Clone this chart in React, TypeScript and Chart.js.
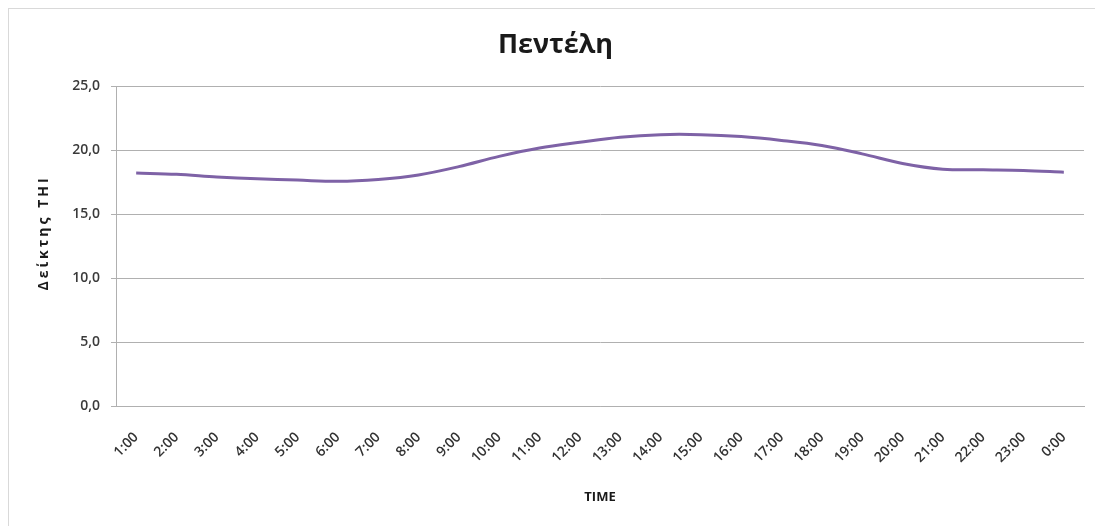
import React, { useEffect, useRef } from "react";
import { Chart, registerables } from "chart.js";

Chart.register(...registerables);

const hours: string[] = [
  "1:00", "2:00", "3:00", "4:00", "5:00", "6:00", "7:00", "8:00",
  "9:00", "10:00", "11:00", "12:00", "13:00", "14:00", "15:00", "16:00",
  "17:00", "18:00", "19:00", "20:00", "21:00", "22:00", "23:00", "0:00",
];

const thiValues: number[] = [
  18.2, 18.1, 17.9, 17.75, 17.65, 17.55, 17.7, 18.05,
  18.7, 19.5, 20.15, 20.6, 21.0, 21.2, 21.2, 21.05,
  20.75, 20.35, 19.7, 18.95, 18.5, 18.45, 18.4, 18.27,
];

const chartTitle = "Πεντέλη";
const yAxisTitle = "Δείκτης THI";
const xAxisTitle = "TIME";

const FONT = "'Open Sans', 'DejaVu Sans', sans-serif";
const GRID = "#b0b0b0";

// Vertical axis title, drawn with letter spacing to the left of the plot
const yTitlePlugin = {
  id: "yTitle",
  afterDraw(chart: any) {
    const { ctx, chartArea } = chart;
    ctx.save();
    ctx.font = `bold 14px ${FONT}`;
    ctx.fillStyle = "#1a1a1a";
    ctx.textAlign = "center";
    ctx.textBaseline = "middle";
    (ctx as any).letterSpacing = "3px";
    ctx.translate(35, (chartArea.top + chartArea.bottom) / 2 - 13);
    ctx.rotate(-Math.PI / 2);
    ctx.fillText(yAxisTitle, 0, 0);
    ctx.restore();
    (ctx as any).letterSpacing = "0px";
  },
};

export default function App() {
  const canvasRef = useRef<HTMLCanvasElement | null>(null);

  useEffect(() => {
    if (!canvasRef.current) return;
    const chart = new Chart(canvasRef.current, {
      type: "line",
      data: {
        labels: hours,
        datasets: [
          {
            label: chartTitle,
            data: thiValues,
            borderColor: "#7e62a6",
            borderWidth: 3,
            pointRadius: 0,
            tension: 0.35,
            fill: false,
          },
        ],
      },
      plugins: [yTitlePlugin],
      options: {
        responsive: false,
        animation: false,
        layout: { padding: { left: 18, right: 18, top: 0, bottom: 0 } },
        plugins: {
          legend: { display: false },
          tooltip: { enabled: false },
          title: {
            display: true,
            text: chartTitle,
            color: "#1a1a1a",
            font: { family: FONT, size: 27, weight: "bold" },
            padding: { top: 20, bottom: 24.6 },
          },
        },
        scales: {
          x: {
            offset: true,
            grid: { display: false, drawTicks: false },
            border: { display: true, color: GRID, width: 1 },
            ticks: {
              autoSkip: false,
              maxRotation: 45,
              minRotation: 45,
              padding: 23,
              color: "#333333",
              font: { family: FONT, size: 14, weight: 600 },
            },
            title: {
              display: true,
              text: xAxisTitle,
              color: "#1a1a1a",
              font: { family: FONT, size: 13, weight: "bold" },
              padding: { top: 0, bottom: 21 },
            },
            afterFit: (scale: any) => {
              scale.height = 120;
            },
          },
          y: {
            min: 0,
            max: 25,
            grid: {
              color: GRID,
              lineWidth: 1,
              drawTicks: true,
              tickLength: 5,
            },
            border: { display: true, color: GRID, width: 1 },
            ticks: {
              stepSize: 5,
              padding: 11,
              color: "#3a3a3a",
              font: { family: FONT, size: 14, weight: 600 },
              callback: (v: any) => Number(v).toFixed(1).replace(".", ","),
            },
            title: { display: false },
            afterFit: (scale: any) => {
              scale.width = 89;
            },
          },
        },
      },
    });
    return () => chart.destroy();
  }, []);

  return (
    <div
      style={{
        width: 1093,
        height: 530,
        border: "1px solid #d9d9d9",
        background: "#ffffff",
      }}
    >
      <canvas
        ref={canvasRef}
        width={1093}
        height={517}
        style={{ display: "block", width: 1093, height: 517 }}
      />
    </div>
  );
}
